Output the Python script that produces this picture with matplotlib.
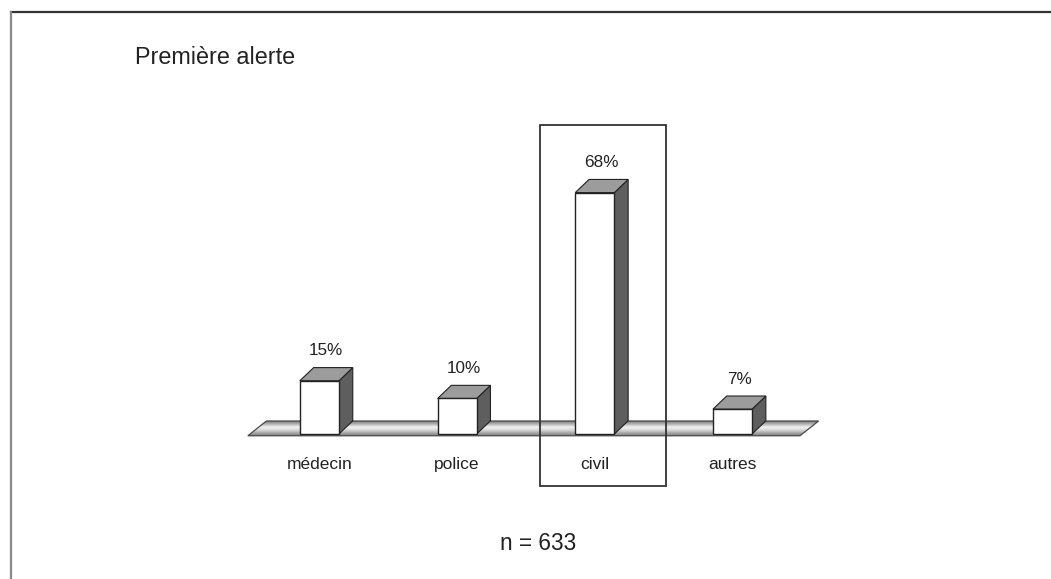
import matplotlib.pyplot as plt
import numpy as np
from matplotlib.patches import Polygon, Rectangle
from matplotlib.lines import Line2D
from matplotlib.colors import LinearSegmentedColormap

plt.rcParams['font.family'] = ['Liberation Sans', 'DejaVu Sans']

categories = ["médecin", "police", "civil", "autres"]
percents = [15, 10, 68, 7]
title = "Première alerte"
note = "n = 633"
highlighted = "civil"

fig = plt.figure(figsize=(10.51, 5.79), dpi=100)
ax = fig.add_axes([0, 0, 1, 1])

# box geometry (x in category units, y in percent)
hw = 0.142
dx, dy = 0.10, 3.7
edge = '#222222'

# floor slab with a shaded gradient
fx0, fx1 = -0.52, 3.49
fy0, fy1 = -0.5, 3.66
fdx = 0.135
floor_pts = [(fx0, fy0), (fx1, fy0), (fx1 + fdx, fy1), (fx0 + fdx, fy1)]
floor = Polygon(floor_pts, closed=True, fc='none', ec='#4a4a4a', lw=0.9, zorder=2)
ax.add_patch(floor)
shade = LinearSegmentedColormap.from_list(
    'floor', ['#7a7a7a', '#a8a8a8', '#d8d8d8', '#f2f2f2', '#b4b4b4', '#7c7c7c'])
grad = np.linspace(0, 1, 64).reshape(-1, 1)
img = ax.imshow(grad, extent=[fx0, fx1 + fdx, fy1, fy0], aspect='auto',
                cmap=shade, origin='upper', zorder=1, interpolation='bilinear')
img.set_clip_path(floor)

for i, (cat, v) in enumerate(zip(categories, percents)):
    front = Rectangle((i - hw, 0), 2 * hw, v, fc='white', ec=edge, lw=1.0, zorder=4)
    top = Polygon([(i - hw, v), (i + hw, v), (i + hw + dx, v + dy), (i - hw + dx, v + dy)],
                  closed=True, fc='#9c9c9c', ec=edge, lw=0.8, zorder=3)
    side = Polygon([(i + hw, 0), (i + hw + dx, dy), (i + hw + dx, v + dy), (i + hw, v)],
                   closed=True, fc='#5e5e5e', ec=edge, lw=0.8, zorder=3)
    for p in (side, top, front):
        ax.add_patch(p)
    ax.text(i + dx / 2, v + dy + 2.6, f"{v}%", ha='center', va='bottom',
            fontsize=12.3, color='#222222', zorder=5)
    ax.text(i, -8.7, cat, ha='center', va='center', fontsize=12.5,
            color='#222222', zorder=5)

# frame around the highlighted category
k = categories.index(highlighted)
ax.add_patch(Rectangle((k - 0.40, -14.6), 0.92, 101.6, fill=False,
                       ec='#333333', lw=1.3, zorder=6))

ax.set_xlim(-2.320, 5.313)
ax.set_ylim(-40.85, 122.25)
ax.axis('off')

fig.text(135 / 1051, 1 - 58 / 579, title, ha='left', va='center',
         fontsize=16.8, color='#222222')
fig.text(538 / 1051, 1 - 543 / 579, note, ha='center', va='center',
         fontsize=16.3, color='#222222')

# page border: top and left edges
fig.add_artist(Line2D([11 / 1051, 1], [1 - 12 / 579] * 2, transform=fig.transFigure,
                      color='#333333', lw=1.6))
fig.add_artist(Line2D([11 / 1051] * 2, [0, 1 - 12 / 579], transform=fig.transFigure,
                      color='#888888', lw=1.6))

fig.savefig('out.png', dpi=100)
